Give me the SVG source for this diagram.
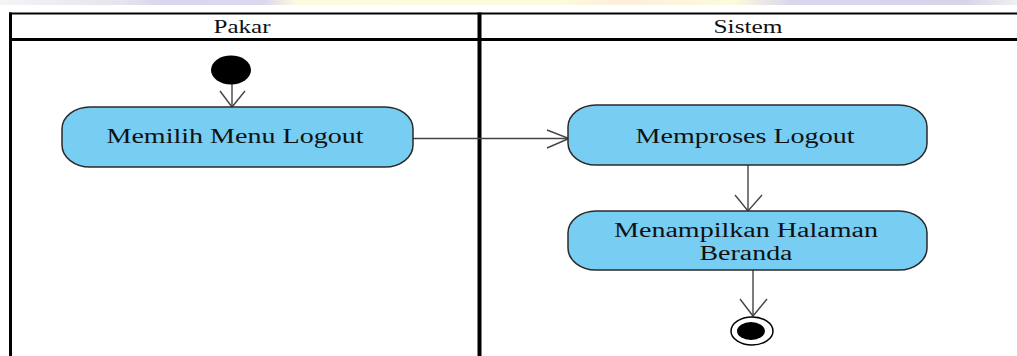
<svg xmlns="http://www.w3.org/2000/svg" width="1017" height="356" viewBox="0 0 1017 356">
<style>
.lane{stroke:#000;fill:none}
.node{fill:#78CDF3;stroke:#2a2a2a;stroke-width:1.5}
.t{font-family:"Liberation Serif","Times New Roman",serif;fill:#111;text-anchor:middle}
.nt{font-size:20px}
.ht{font-size:18px}
.edge{stroke:#444;stroke-width:1.4;fill:none}
.head{stroke:#444;stroke-width:1.4;fill:none}
</style>
<defs>
<linearGradient id="band" x1="0" x2="1" y1="0" y2="0">
<stop offset="0" stop-color="#f4f4f6"/>
<stop offset="0.12" stop-color="#e6e4ee"/>
<stop offset="0.16" stop-color="#d9d5ee"/>
<stop offset="0.26" stop-color="#dcd8ee"/>
<stop offset="0.29" stop-color="#fcfadf"/>
<stop offset="0.55" stop-color="#fdfbdc"/>
<stop offset="0.61" stop-color="#fbeedc"/>
<stop offset="0.72" stop-color="#fdfbdc"/>
<stop offset="0.78" stop-color="#d9d5ee"/>
<stop offset="0.95" stop-color="#d8d4ea"/>
<stop offset="1" stop-color="#f0f0f2"/>
</linearGradient>
</defs>
<rect width="1017" height="356" fill="#fff"/>
<rect x="0" y="0" width="1017" height="5" fill="url(#band)"/>
<g id="swimlanes">
<line class="lane" x1="9" y1="13.5" x2="1017" y2="13.5" stroke-width="2"/>
<line class="lane" x1="9" y1="39.5" x2="1017" y2="39.5" stroke-width="3"/>
<line class="lane" x1="10.5" y1="12.5" x2="10.5" y2="356" stroke-width="3"/>
<line class="lane" x1="479.5" y1="12.5" x2="479.5" y2="356" stroke-width="4"/>
<text class="t ht" x="242" y="33" textLength="57" lengthAdjust="spacingAndGlyphs">Pakar</text>
<text class="t ht" x="748" y="33" textLength="69" lengthAdjust="spacingAndGlyphs">Sistem</text>
</g>
<g id="connectors">
<line class="edge" x1="232" y1="84" x2="232" y2="107"/>
<polyline class="head" points="220,91 232,107 245,91"/>
<line class="edge" x1="413" y1="138.5" x2="569" y2="138.5"/>
<polyline class="head" points="547,130 569,138.5 547,148"/>
<line class="edge" x1="748" y1="165" x2="748" y2="211"/>
<polyline class="head" points="735,195 748,211 762,195"/>
<line class="edge" x1="753" y1="270" x2="753" y2="316"/>
<polyline class="head" points="740,299 753,316 767,299"/>
</g>
<g id="start">
<ellipse cx="231" cy="70" rx="20" ry="14.5" fill="#000"/>
</g>
<g id="memilih-menu-logout">
<rect class="node" x="62" y="107" width="351" height="60" rx="28" ry="22"/>
<text class="t nt" x="235" y="143" textLength="257" lengthAdjust="spacingAndGlyphs">Memilih Menu Logout</text>
</g>
<g id="memproses-logout">
<rect class="node" x="568" y="105" width="359" height="60" rx="28" ry="22"/>
<text class="t nt" x="745" y="143" textLength="219" lengthAdjust="spacingAndGlyphs">Memproses Logout</text>
</g>
<g id="menampilkan-halaman-beranda">
<rect class="node" x="568" y="211" width="359" height="59" rx="28" ry="22"/>
<text class="t nt" x="746" y="237" textLength="264" lengthAdjust="spacingAndGlyphs">Menampilkan Halaman</text>
<text class="t nt" x="746" y="260" textLength="93" lengthAdjust="spacingAndGlyphs">Beranda</text>
</g>
<g id="end">
<ellipse cx="752" cy="331" rx="21" ry="14" fill="#fff" stroke="#000" stroke-width="1.5"/>
<ellipse cx="751" cy="331" rx="14" ry="9" fill="#000"/>
</g>
</svg>
